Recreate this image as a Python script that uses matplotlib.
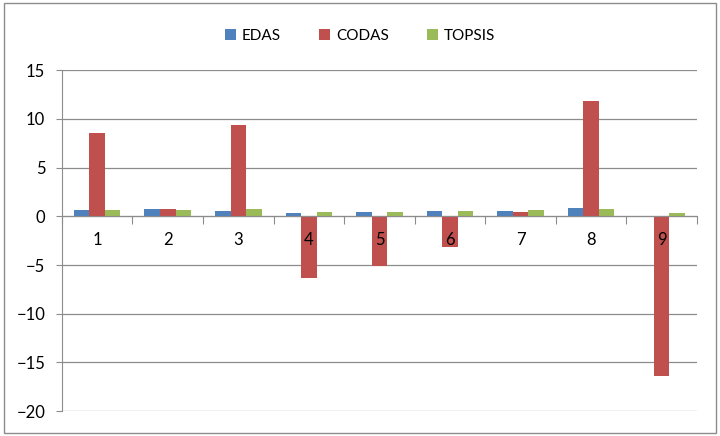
import matplotlib.pyplot as plt
import matplotlib.transforms as mtransforms
from matplotlib.patches import Rectangle
import numpy as np

plt.rcParams['font.family'] = ['Lato', 'DejaVu Sans']

categorias = ['1', '2', '3', '4', '5', '6', '7', '8', '9']
edas = [0.6, 0.7, 0.55, 0.3, 0.4, 0.55, 0.55, 0.85, 0.05]
codas = [8.6, 0.7, 9.35, -6.35, -5.1, -3.1, 0.4, 11.8, -16.4]
topsis = [0.65, 0.6, 0.7, 0.45, 0.45, 0.5, 0.6, 0.7, 0.35]

fig = plt.figure(figsize=(7.2, 4.36), dpi=100)
ax = fig.add_axes([0.086, 0.057, 0.882, 0.782])

x = np.arange(len(categorias))
w = 0.22
ax.bar(x - w, edas, w, color='#4F81BD', label='EDAS', zorder=3)
ax.bar(x, codas, w, color='#C0504D', label='CODAS', zorder=3)
ax.bar(x + w, topsis, w, color='#9BBB59', label='TOPSIS', zorder=3)

ax.set_xlim(-0.5, len(categorias) - 0.5)
ax.set_ylim(-20, 15)
ax.set_yticks(np.arange(-20, 16, 5))
ax.yaxis.grid(True, color='#8c8c8c', linewidth=0.9, zorder=0)
ax.tick_params(axis='y', labelsize=12, length=4, color='#8c8c8c', pad=8)

for s in ['top', 'right']:
    ax.spines[s].set_visible(False)
ax.spines['left'].set_color('#8c8c8c')
ax.spines['bottom'].set_position(('data', 0))
ax.spines['bottom'].set_color('#8c8c8c')
ax.spines['bottom'].set_zorder(4)

ax.set_xticks(np.arange(len(categorias) + 1) - 0.5)
ax.set_xticklabels([])
ax.tick_params(axis='x', length=6, color='#8c8c8c', direction='out')

trans = mtransforms.offset_copy(ax.transData, fig=fig, y=-24, units='dots')
for i, c in enumerate(categorias):
    ax.text(i, 0, c, transform=trans, ha='center', va='center', fontsize=12, zorder=5)

fig.legend(loc='upper center', bbox_to_anchor=(0.5, 0.965), ncol=3, frameon=False,
           fontsize=11, handlelength=0.7, handleheight=0.7, columnspacing=2.5, handletextpad=0.4)

fig.add_artist(Rectangle((0.006, 0.008), 0.988, 0.984, transform=fig.transFigure,
                         fill=False, edgecolor='#8c8c8c', linewidth=1))

fig.savefig('out.png', dpi=100)
